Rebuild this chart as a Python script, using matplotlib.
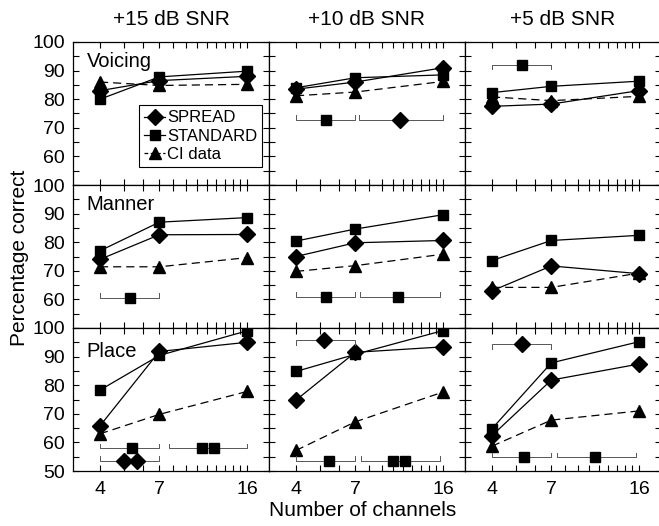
import matplotlib
matplotlib.use('Agg')
import matplotlib.pyplot as plt
from matplotlib.ticker import FixedLocator, NullFormatter
from matplotlib.lines import Line2D

plt.rcParams['font.family'] = ['Liberation Sans', 'DejaVu Sans']

# number of channels (x) and panel labels
channels = [4, 7, 16]
snr_labels = ['+15 dB SNR', '+10 dB SNR', '+5 dB SNR']
features = ['Voicing', 'Manner', 'Place']

# percentage correct, one list per SNR (+15, +10, +5)
spread_voicing = [[83, 86.5, 88], [83.5, 86, 91], [77.5, 78.3, 83]]
standard_voicing = [[80, 87.8, 89.8], [84, 87.5, 88.5], [82.3, 84.5, 86.3]]
ci_voicing = [[86, 84.8, 85.2], [81.2, 82.5, 86.2], [80.8, 79.5, 81]]

spread_manner = [[74, 82.6, 82.7], [75, 79.8, 80.6], [63, 71.7, 69]]
standard_manner = [[77, 87, 88.6], [80.4, 84.6, 89.6], [73.6, 80.6, 82.4]]
ci_manner = [[71.4, 71.4, 74.6], [69.8, 71.8, 75.8], [64.2, 64.2, 69.2]]

spread_place = [[65.8, 91.8, 95], [74.8, 91.5, 93.4], [62.4, 81.8, 87.4]]
standard_place = [[78.3, 90.4, 99], [84.8, 90.8, 99.1], [64.8, 87.8, 95.2]]
ci_place = [[63, 69.8, 77.8], [57.2, 67.2, 77.6], [58.7, 67.8, 71]]

# significance brackets: (x start, x end, y, marker, marker x positions, tick direction)
sig_voicing = [[],
               [(4, 7, 72.8, 's', [5.3], 1), (7.25, 16, 72.8, 'D', [10.7], 1)],
               [(4, 7, 92, 's', [5.3], -1)]]
sig_manner = [[(4, 7, 60.6, 's', [5.3], 1)],
              [(4, 7, 61, 's', [5.3], 1), (7.3, 15.6, 61, 's', [10.5], 1)],
              []]
sig_place = [[(4, 7, 58, 's', [5.4], 1), (7.7, 16, 58, 's', [10.5, 11.7], 1),
              (4, 7, 53.5, 'D', [5.0, 5.65], 1)],
             [(4, 7, 95.8, 'D', [5.2], -1), (4, 7, 53.6, 's', [5.45], 1),
              (7.4, 15.5, 53.6, 's', [10.0, 11.2], 1)],
             [(4, 7, 94.4, 'D', [5.3], -1), (4, 7, 54.8, 's', [5.4], 1),
              (7.35, 15.6, 54.8, 's', [10.6], 1)]]

spread_all = [spread_voicing, spread_manner, spread_place]
standard_all = [standard_voicing, standard_manner, standard_place]
ci_all = [ci_voicing, ci_manner, ci_place]
sig_all = [sig_voicing, sig_manner, sig_place]

fig = plt.figure(figsize=(6.59, 5.26), dpi=100)

left, width = 73 / 659, 196 / 659
bottom, height = 55 / 526, 143 / 526
label_y = [0.93, 0.93, 0.9]
ms_d, ms_s, ms_t = 8, 7, 9

for r in range(3):
    for c in range(3):
        ax = fig.add_axes([left + c * width, bottom + (2 - r) * height, width, height])
        ax.plot(channels, spread_all[r][c], '-', color='black', lw=0.9,
                marker='D', ms=ms_d, label='SPREAD')
        ax.plot(channels, standard_all[r][c], '-', color='black', lw=0.9,
                marker='s', ms=ms_s, label='STANDARD')
        ax.plot(channels, ci_all[r][c], '--', color='black', lw=0.9, dashes=(6.5, 4),
                marker='^', ms=ms_t, label='CI data')

        # significance brackets
        for x0, x1, y, m, xm, d in sig_all[r][c]:
            ax.plot([x0, x0, x1, x1], [y + 1.6 * d, y, y, y + 1.6 * d],
                    color='#555555', lw=0.7)
            ax.plot(xm, [y] * len(xm), linestyle='none', marker=m, color='black',
                    ms=ms_d if m == 'D' else ms_s)

        ax.set_xscale('log')
        ax.set_xlim(3.1, 19.7)
        ax.set_ylim(50, 100)
        ax.xaxis.set_major_locator(FixedLocator(channels))
        ax.xaxis.set_minor_locator(FixedLocator([5, 6, 8, 9, 10, 11, 12, 13, 14, 15]))
        ax.xaxis.set_minor_formatter(NullFormatter())
        ax.set_yticks([50, 60, 70, 80, 90, 100])
        ax.set_yticks([55, 65, 75, 85, 95], minor=True)
        ax.tick_params(which='both', direction='in', top=True, right=True,
                       length=4, width=0.8, labelsize=14)
        ax.tick_params(axis='y', pad=6)
        ax.tick_params(axis='x', pad=7)

        if r == 2:
            ax.set_xticklabels([str(v) for v in channels])
        else:
            ax.set_xticklabels([])
        if c == 0:
            if r == 2:
                ax.set_yticklabels(['50', '60', '70', '80', '90', '100'])
            else:
                ax.set_yticklabels(['', '60', '70', '80', '90', '100'])
            ax.text(0.07, label_y[r], features[r], transform=ax.transAxes,
                    fontsize=14.5, va='top', ha='left')
        else:
            ax.set_yticklabels([])
        if r == 0:
            ax.set_title(snr_labels[c], fontsize=15, pad=12)
        for s in ax.spines.values():
            s.set_linewidth(0.9)

        if r == 0 and c == 0:
            handles = [
                Line2D([], [], color='black', lw=0.9, marker='D', ms=ms_d),
                Line2D([], [], color='black', lw=0.9, marker='s', ms=ms_s),
                Line2D([], [], color='black', lw=0.9, ls='--', dashes=(3, 2),
                       marker='^', ms=ms_t),
            ]
            leg = ax.legend(handles, ['SPREAD', 'STANDARD', 'CI data'],
                            loc='lower right', bbox_to_anchor=(0.965, 0.125),
                            borderaxespad=0, fontsize=12, handlelength=1.3,
                            handletextpad=0.1, labelspacing=0.2, borderpad=0.3,
                            fancybox=False, framealpha=1, edgecolor='black')
            leg.get_frame().set_linewidth(0.8)

fig.text(0.03, 0.51, 'Percentage correct', rotation=90, fontsize=15,
         ha='center', va='center')
fig.text(0.55, 0.03, 'Number of channels', fontsize=15, ha='center', va='center')

plt.savefig('out.png', dpi=100)
